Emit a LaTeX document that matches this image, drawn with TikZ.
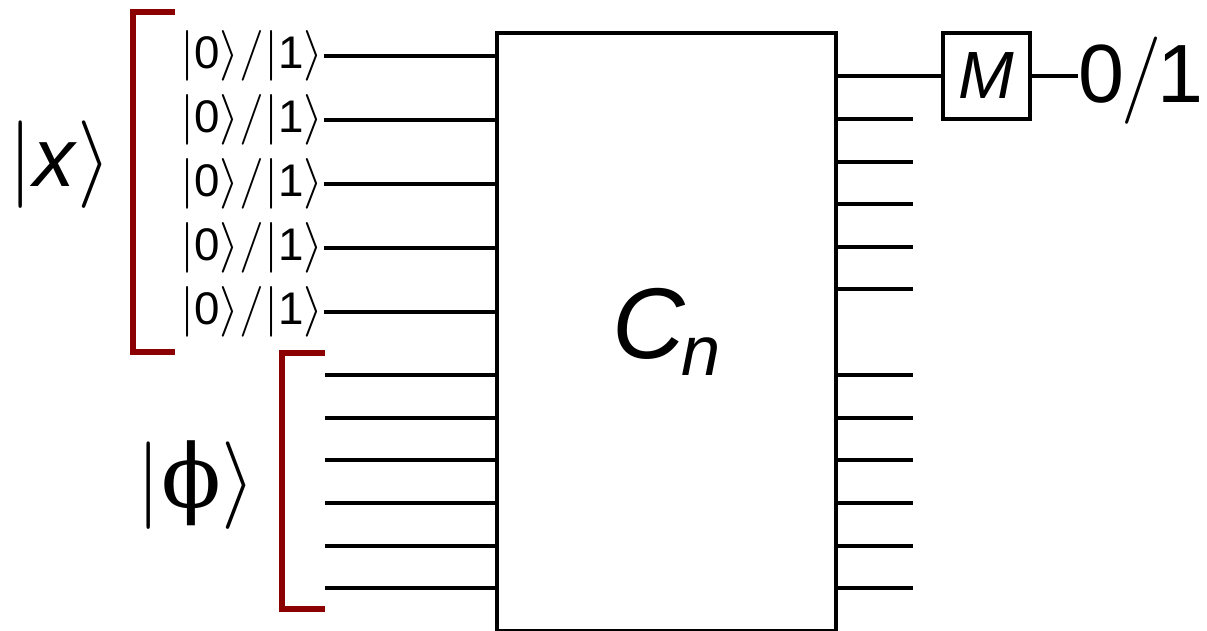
\documentclass[tikz,border=0pt]{standalone}
\usepackage{fontspec}
\setmainfont{Liberation Sans}
\newfontfamily\phifont{DejaVu Serif}
\usetikzlibrary{positioning}
\definecolor{bracketred}{RGB}{139,0,0}
\newcommand{\ketdigit}[1]{$|${\fontsize{13}{13}\selectfont#1}$\rangle$}
\newcommand{\zeroone}{\ketdigit{0}$/$\ketdigit{1}}

\begin{document}
\begin{tikzpicture}[x=0.01cm,y=-0.01cm,
  wire/.style={line width=1pt},
  bracket/.style={bracketred,line width=1.5pt},
  ketlbl/.style={font=\fontsize{14}{14}\selectfont,inner sep=0pt,anchor=east}]
\useasboundingbox (0,0) rectangle (1207,630);
% the circuit
\node[draw,wire,minimum width=3.39cm,minimum height=5.98cm,inner sep=0pt,
  font=\fontsize{28.6}{30}\selectfont] (C) at (666.5,332)
  {\textit{C}\kern-1pt{\fontsize{20}{20}\selectfont\raisebox{-5pt}{\textit{n}}}};
% inputs |x>
\node[ketlbl] (q1) at (324,56) {\zeroone};
\node[ketlbl] (q2) at (324,120) {\zeroone};
\node[ketlbl] (q3) at (324,184) {\zeroone};
\node[ketlbl] (q4) at (324,248) {\zeroone};
\node[ketlbl] (q5) at (324,312) {\zeroone};
\draw[wire] (q1.east) -- (q1.east -| C.west);
\draw[wire] (q2.east) -- (q2.east -| C.west);
\draw[wire] (q3.east) -- (q3.east -| C.west);
\draw[wire] (q4.east) -- (q4.east -| C.west);
\draw[wire] (q5.east) -- (q5.east -| C.west);
\draw[bracket] (175,12) -- (133,12) -- (133,352) -- (175,352);
\node[font=\fontsize{23.6}{24}\selectfont,inner sep=0pt] (x) at (60,165)
  {$|$\textit{x}$\rangle$};
% inputs |phi>
\coordinate (p1) at (325,375);
\coordinate (p2) at (325,418);
\coordinate (p3) at (325,460);
\coordinate (p4) at (325,503);
\coordinate (p5) at (325,546);
\coordinate (p6) at (325,588);
\draw[wire] (p1) -- (p1 -| C.west);
\draw[wire] (p2) -- (p2 -| C.west);
\draw[wire] (p3) -- (p3 -| C.west);
\draw[wire] (p4) -- (p4 -| C.west);
\draw[wire] (p5) -- (p5 -| C.west);
\draw[wire] (p6) -- (p6 -| C.west);
\draw[bracket] (p1 |- 0,353) -- (282,353) -- (282,609) -- (p6 |- 0,609);
\node[font=\fontsize{25}{25}\selectfont,inner sep=0pt] (phi) at (196,485)
  {$|${\phifont ϕ}$\rangle$};
% outputs
\node[draw,wire,minimum width=0.87cm,minimum height=0.86cm,inner sep=0pt,
  font=\fontsize{19}{19}\selectfont] (M) at (986.5,76) {\textit{M}};
\node[font=\fontsize{23.5}{24}\selectfont,inner sep=0pt,anchor=base west]
  (out) at (1078,102) {0\kern-1pt$/$\kern-1pt1};
\draw[wire] (M.west -| C.east) -- (M.west);
\draw[wire] (M.east) -- (M.east -| out.west);
\draw[wire] (C.east |- 0,119) -- (913,119);
\draw[wire] (C.east |- 0,162) -- (913,162);
\draw[wire] (C.east |- 0,204) -- (913,204);
\draw[wire] (C.east |- 0,247) -- (913,247);
\draw[wire] (C.east |- 0,289) -- (913,289);
\draw[wire] (C.east |- 0,375) -- (913,375);
\draw[wire] (C.east |- 0,418) -- (913,418);
\draw[wire] (C.east |- 0,460) -- (913,460);
\draw[wire] (C.east |- 0,503) -- (913,503);
\draw[wire] (C.east |- 0,546) -- (913,546);
\draw[wire] (C.east |- 0,588) -- (913,588);
\end{tikzpicture}
\end{document}
